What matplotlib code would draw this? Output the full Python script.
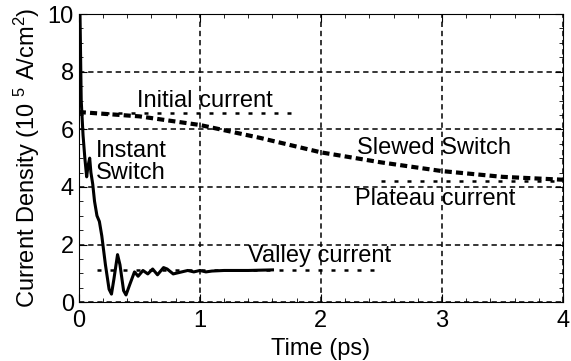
import matplotlib
matplotlib.use("Agg")
import matplotlib.pyplot as plt
from matplotlib.ticker import MultipleLocator

plt.rcParams['font.family'] = ['Liberation Sans', 'DejaVu Sans']
plt.rcParams['mathtext.fontset'] = 'custom'
plt.rcParams['mathtext.rm'] = 'Liberation Sans'
plt.rcParams['mathtext.it'] = 'Liberation Sans'

# Instant switch (solid)
instant_t = [0.0, 0.01, 0.02, 0.035, 0.05, 0.065, 0.075, 0.09, 0.1, 0.115, 0.13,
             0.15, 0.17, 0.19, 0.22, 0.25, 0.27, 0.29, 0.32, 0.34, 0.37, 0.39,
             0.42, 0.46, 0.49, 0.53, 0.57, 0.61, 0.65, 0.7, 0.73, 0.78, 0.85,
             0.9, 0.95, 1.0, 1.05, 1.1, 1.2, 1.4, 1.6]
instant_j = [12.0, 10.0, 7.0, 5.8, 5.0, 4.35, 4.7, 5.0, 4.5, 4.1, 3.5,
             3.0, 2.8, 2.3, 1.3, 0.45, 0.28, 0.8, 1.65, 1.3, 0.4, 0.25,
             0.6, 1.05, 0.9, 1.1, 0.98, 1.15, 0.95, 1.2, 1.15, 0.98, 1.05,
             1.1, 1.05, 1.1, 1.05, 1.08, 1.1, 1.1, 1.12]

# Slewed switch (thick dashed)
slewed_t = [0.0, 0.5, 1.0, 1.5, 2.0, 2.5, 3.0, 3.5, 4.0]
slewed_j = [6.6, 6.45, 6.15, 5.7, 5.2, 4.85, 4.55, 4.35, 4.25]

# reference levels
initial_t = [0.0, 1.78]
initial_j = [6.55, 6.55]
plateau_t = [2.5, 4.0]
plateau_j = [4.22, 4.22]
valley_t = [0.15, 2.45]
valley_j = [1.12, 1.12]

fig = plt.figure(figsize=(5.71, 3.61), dpi=100)
ax = fig.add_axes([0.138, 0.163, 0.848, 0.798])

ax.plot(instant_t, instant_j, color='black', lw=2.2, solid_joinstyle='round')
ax.plot(slewed_t, slewed_j, color='black', lw=3.0, ls=(0, (1.7, 1.0)))
for tt, jj in [(initial_t, initial_j), (plateau_t, plateau_j), (valley_t, valley_j)]:
    ax.plot(tt, jj, color='black', lw=1.8, ls=(0, (1.6, 3.6)))

ax.set_xlim(0, 4)
ax.set_ylim(0, 10)
ax.xaxis.set_major_locator(MultipleLocator(1))
ax.xaxis.set_minor_locator(MultipleLocator(0.2))
ax.yaxis.set_major_locator(MultipleLocator(2))
ax.yaxis.set_minor_locator(MultipleLocator(0.5))
ax.tick_params(which='both', direction='in', top=True, right=True, labelsize=17)
ax.tick_params(axis='x', pad=6)
ax.tick_params(which='major', length=6)
ax.tick_params(which='minor', length=3)
ax.grid(True, which='major', color='black', ls=(0, (3.5, 2.5)), lw=1.1)

ax.set_xlabel('Time (ps)', fontsize=17, labelpad=4)
ax.set_ylabel('Current Density (10 $^{5}$ A/cm$^{2}$)', fontsize=17, labelpad=4)

ax.text(0.48, 6.98, 'Initial current', fontsize=17, va='center')
ax.text(0.14, 4.85, 'Instant\nSwitch', fontsize=17, va='center', linespacing=1.0)
ax.text(2.3, 5.35, 'Slewed Switch', fontsize=17, va='center')
ax.text(2.28, 3.58, 'Plateau current', fontsize=17, va='center')
ax.text(1.4, 1.6, 'Valley current', fontsize=17, va='center')

fig.savefig('out.png', dpi=100)
